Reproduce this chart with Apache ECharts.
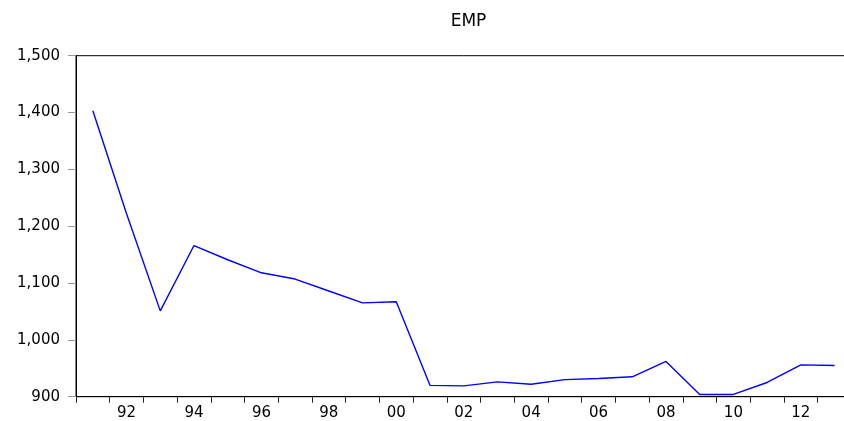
<!DOCTYPE html>
<html>
<head>
<meta charset="utf-8">
<script src="https://cdn.jsdelivr.net/npm/echarts@6/dist/echarts.min.js"></script>
<style>
html,body{margin:0;padding:0;background:#fff;overflow:hidden;width:844px;height:421px;}
#chart{width:852px;height:421px;}
</style>
</head>
<body>
<div id="chart"></div>
<script>
var chartTitle = 'EMP';
var years = ['1991','1992','1993','1994','1995','1996','1997','1998','1999','2000','2001','2002','2003','2004','2005','2006','2007','2008','2009','2010','2011','2012','2013'];
var emp = [1403,1222,1051,1166,1141,1118,1107,1086,1065,1067,920,919,926,922,930,932,935,962,904,904,925,956,955];
var yTicks = [900,1000,1100,1200,1300,1400,1500];

var FONT = 'DejaVu Sans';
var chart = echarts.init(document.getElementById('chart'), null, {renderer:'canvas'});
chart.setOption({
  animation:false,
  backgroundColor:'#fff',
  title:{
    text:chartTitle,
    left:463.5,
    top:8,
    textAlign:'center',
    textStyle:{fontFamily:FONT,fontSize:17,fontWeight:'normal',color:'#000'}
  },
  grid:{
    left:76, right:0.6, top:55.7, bottom:24.3,
    show:true, borderColor:'#000', borderWidth:1, backgroundColor:'transparent'
  },
  xAxis:{
    type:'category',
    data:years,
    boundaryGap:true,
    axisLine:{lineStyle:{color:'#000',width:1}},
    axisTick:{show:true,interval:0,length:6,lineStyle:{color:'#222'}},
    axisLabel:{
      interval:function(i,v){return Number(v)%2===0;},
      formatter:function(v){return v.slice(2);},
      margin:9,
      fontFamily:FONT,fontSize:15,color:'#000'
    },
    splitLine:{show:false}
  },
  yAxis:{
    type:'value',
    min:yTicks[0], max:yTicks[yTicks.length-1], interval:100,
    axisLine:{show:true,lineStyle:{color:'#000',width:1}},
    axisTick:{show:true,length:8,lineStyle:{color:'#999'}},
    axisLabel:{
      margin:16,
      formatter:function(v){return v.toLocaleString('en-US');},
      fontFamily:FONT,fontSize:15,color:'#000'
    },
    splitLine:{show:false}
  },
  series:[{
    type:'line',
    data:emp,
    showSymbol:false,
    symbol:'none',
    lineStyle:{color:'#0000ff',width:1.4},
    itemStyle:{color:'#0000ff'}
  }]
});
</script>
</body>
</html>
